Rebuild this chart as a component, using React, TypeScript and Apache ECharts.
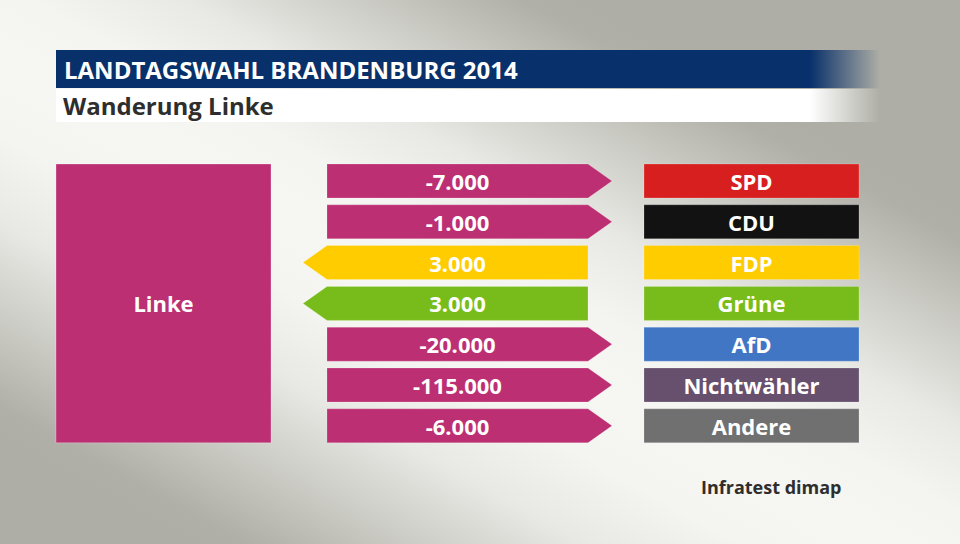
import React, { useEffect, useRef } from "react";
import * as echarts from "echarts";

const title = "LANDTAGSWAHL BRANDENBURG 2014";
const subtitle = "Wanderung Linke";
const source = "Infratest dimap";
const sourceParty = "Linke";
const sourceColor = "#bd2f73";
const parties = ["SPD", "CDU", "FDP", "Grüne", "AfD", "Nichtwähler", "Andere"];
const flows = [-7000, -1000, 3000, 3000, -20000, -115000, -6000];
const partyColors = ["#d81f1f", "#121212", "#ffcc00", "#78bc1b", "#4176c5", "#66506e", "#707070"];

const FONT = '"Open Sans", "Noto Sans", sans-serif';

function fmt(v: number): string {
  const s = Math.abs(v).toString().replace(/\B(?=(\d{3})+(?!\d))/g, ".");
  return (v < 0 ? "-" : "") + s;
}

export default function App() {
  const ref = useRef<HTMLDivElement>(null);
  useEffect(() => {
    if (!ref.current) return;
    const chart = echarts.init(ref.current, null, { renderer: "svg" });
    const idx = parties.map((_, i) => i);

    const BODY_L = 327, BODY_R = 588, TIP = 24;
    const BOX_L = 644, BOX_R = 859;
    const LINKE_L = 56, LINKE_R = 271;
    const BAR_H = 34;

    const option: any = {
      animation: false,
      backgroundColor: "transparent",
      grid: { left: 0, right: 0, top: 160.6, height: 285.6, containLabel: false },
      xAxis: { type: "value", min: 0, max: 960, show: false },
      yAxis: { type: "category", data: parties, inverse: true, show: false },
      graphic: [
        {
          type: "rect", z: -10, silent: true,
          shape: { x: 0, y: 0, width: 960, height: 544 },
          style: {
            fill: new echarts.graphic.LinearGradient(639, 35, 321, 613, [
              { offset: 0, color: "#aeaea6" },
              { offset: 0.04, color: "#b0b0a8" },
              { offset: 0.175, color: "#d0d0ca" },
              { offset: 0.285, color: "#e8e8e4" },
              { offset: 0.4, color: "#f4f4f0" },
              { offset: 0.5, color: "#f6f6f2" },
              { offset: 0.6, color: "#f4f4f0" },
              { offset: 0.715, color: "#e8e8e4" },
              { offset: 0.825, color: "#d0d0ca" },
              { offset: 0.96, color: "#b0b0a8" },
              { offset: 1, color: "#aeaea6" },
            ], true),
          },
        },
        {
          type: "rect", silent: true,
          shape: { x: 56, y: 50, width: 824, height: 38 },
          style: {
            fill: new echarts.graphic.LinearGradient(0, 0, 1, 0, [
              { offset: 0, color: "#08306a" },
              { offset: 0.915, color: "#08306a" },
              { offset: 1, color: "rgba(8,48,106,0)" },
            ]),
          },
        },
        {
          type: "rect", silent: true,
          shape: { x: 56, y: 89, width: 824, height: 33 },
          style: {
            fill: new echarts.graphic.LinearGradient(0, 0, 1, 0, [
              { offset: 0, color: "#ffffff" },
              { offset: 0.915, color: "#ffffff" },
              { offset: 1, color: "rgba(255,255,255,0)" },
            ]),
          },
        },
        {
          type: "text", silent: true, x: 64, y: 69,
          style: { text: title, fill: "#ffffff", font: `bold 24px ${FONT}`, verticalAlign: "middle", align: "left" },
        },
        {
          type: "text", silent: true, x: 63, y: 105,
          style: { text: subtitle, fill: "#2e2e2e", font: `bold 24px ${FONT}`, verticalAlign: "middle", align: "left" },
        },
        {
          type: "text", silent: true, x: 701, y: 487,
          style: { text: source, fill: "#2e2e2e", font: `bold 18px ${FONT}`, verticalAlign: "middle", align: "left" },
        },
      ],
      series: [
        {
          type: "custom",
          name: "source",
          data: [[0]],
          renderItem: (params: any, api: any) => {
            const top = api.coord([LINKE_L, 0])[1] - BAR_H / 2;
            const bottom = api.coord([LINKE_L, parties.length - 1])[1] + BAR_H / 2;
            const x0 = api.coord([LINKE_L, 0])[0];
            const x1 = api.coord([LINKE_R, 0])[0];
            return {
              type: "group",
              children: [
                { type: "rect", shape: { x: x0, y: top, width: x1 - x0, height: bottom - top }, style: { fill: sourceColor, stroke: "rgba(255,255,255,0.25)", lineWidth: 1 } },
                { type: "text", style: { text: sourceParty, x: (x0 + x1) / 2, y: (top + bottom) / 2, fill: "#fff", font: `bold 22px ${FONT}`, align: "center", verticalAlign: "middle" } },
              ],
            };
          },
        },
        {
          type: "custom",
          name: "flows",
          data: idx.map((i) => [i, flows[i]]),
          renderItem: (params: any, api: any) => {
            const i = api.value(0);
            const v = api.value(1);
            const cy = api.coord([0, i])[1];
            const xl = api.coord([BODY_L, i])[0];
            const xr = api.coord([BODY_R, i])[0];
            const t = cy - BAR_H / 2, b = cy + BAR_H / 2;
            const outgoing = v < 0;
            const color = outgoing ? sourceColor : partyColors[i];
            const points = outgoing
              ? [[xl, t], [xr, t], [xr + TIP, cy], [xr, b], [xl, b]]
              : [[xl - TIP, cy], [xl, t], [xr, t], [xr, b], [xl, b]];
            return {
              type: "group",
              children: [
                { type: "polygon", shape: { points }, style: { fill: color, stroke: "rgba(255,255,255,0.2)", lineWidth: 1 } },
                { type: "text", style: { text: fmt(v), x: (xl + xr) / 2, y: cy, fill: "#fff", font: `bold 22px ${FONT}`, align: "center", verticalAlign: "middle" } },
              ],
            };
          },
        },
        {
          type: "custom",
          name: "parties",
          data: idx.map((i) => [i]),
          renderItem: (params: any, api: any) => {
            const i = api.value(0);
            const cy = api.coord([0, i])[1];
            const xl = api.coord([BOX_L, i])[0];
            const xr = api.coord([BOX_R, i])[0];
            return {
              type: "group",
              children: [
                { type: "rect", shape: { x: xl, y: cy - BAR_H / 2, width: xr - xl, height: BAR_H }, style: { fill: partyColors[i], stroke: "rgba(255,255,255,0.2)", lineWidth: 1 } },
                { type: "text", style: { text: parties[i], x: (xl + xr) / 2, y: cy, fill: "#fff", font: `bold 22px ${FONT}`, align: "center", verticalAlign: "middle" } },
              ],
            };
          },
        },
      ],
    };
    chart.setOption(option);
    return () => chart.dispose();
  }, []);
  return <div ref={ref} style={{ position: "absolute", left: 0, top: 0, width: 960, height: 544 }} />;
}
